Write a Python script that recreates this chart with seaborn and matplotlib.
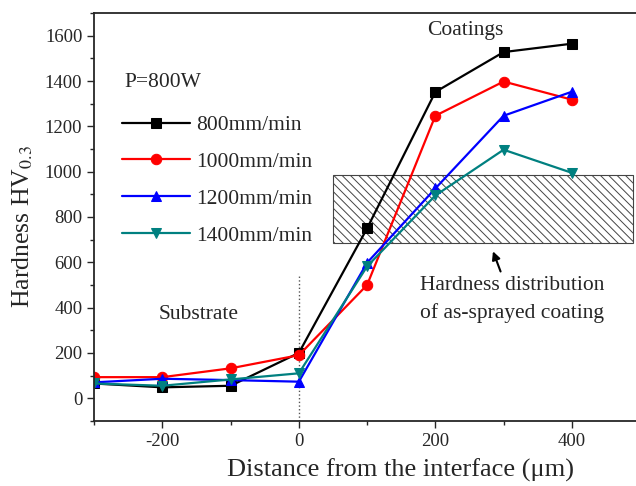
import pandas as pd
import seaborn as sns
import matplotlib.pyplot as plt
from matplotlib.patches import Rectangle
from matplotlib.ticker import MultipleLocator

# distance from interface (um)
distance = [-300, -200, -100, 0, 100, 200, 300, 400]

# hardness values per scanning speed
hv_800 = [65, 48, 55, 200, 750, 1352, 1528, 1565]
hv_1000 = [93, 93, 132, 190, 500, 1247, 1398, 1318]
hv_1200 = [70, 86, 80, 73, 598, 926, 1247, 1353]
hv_1400 = [65, 55, 83, 110, 582, 895, 1097, 995]

speeds = ["800mm/min", "1000mm/min", "1200mm/min", "1400mm/min"]
colors = ["black", "#ff0000", "#0000ff", "#008080"]
marks = ["s", "o", "^", "v"]

rows = []
for sp, vals in zip(speeds, [hv_800, hv_1000, hv_1200, hv_1400]):
    for d, v in zip(distance, vals):
        rows.append({"Distance": d, "Hardness": v, "Speed": sp})
df = pd.DataFrame(rows)

sns.set_style("ticks")
plt.rcParams['font.family'] = ['Liberation Serif', 'DejaVu Serif']
plt.rcParams['mathtext.fontset'] = 'stix'
plt.rcParams['axes.unicode_minus'] = False
plt.rcParams['hatch.color'] = '#555555'
plt.rcParams['hatch.linewidth'] = 0.7

fig = plt.figure(figsize=(6.36, 4.86), dpi=100)
ax = fig.add_axes([0.148, 0.134, 0.852, 0.839])

# as-sprayed coating band
ax.add_patch(Rectangle((50, 685), 440, 300, fill=False, edgecolor="#444444",
                       hatch="\\\\\\\\", linewidth=0.8))
ax.plot([0, 0], [-100, 540], ls=":", color="#555555", lw=1)

sns.lineplot(data=df, x="Distance", y="Hardness", hue="Speed", style="Speed",
             palette=dict(zip(speeds, colors)), markers=dict(zip(speeds, marks)),
             dashes=False, markersize=7.5, linewidth=1.6, ax=ax)
for ln in ax.lines[1:]:
    ln.set_markeredgecolor(ln.get_color())

leg = ax.legend(frameon=False, loc="upper left", bbox_to_anchor=(0.052, 0.75),
                borderaxespad=0, borderpad=0, handlelength=3.15, fontsize=15.5,
                labelspacing=0.78, handletextpad=0.3)
for h in leg.legend_handles:
    h.set_markeredgecolor(h.get_color())

ax.set_xlim(-300, 494)
ax.set_ylim(-100, 1700)
ax.xaxis.set_major_locator(MultipleLocator(200))
ax.xaxis.set_minor_locator(MultipleLocator(100))
ax.yaxis.set_major_locator(MultipleLocator(200))
ax.yaxis.set_minor_locator(MultipleLocator(100))
ax.tick_params(which="both", direction="out", labelsize=13.5, width=1)
ax.tick_params(which="major", length=5)
ax.tick_params(which="minor", length=3)
for s in ["left", "bottom", "top"]:
    ax.spines[s].set_linewidth(1.3)
ax.spines["right"].set_visible(False)

ax.set_xlabel("Distance from the interface (\u03bcm)", fontsize=19)
ax.set_ylabel("Hardness HV$_{0.3}$", fontsize=18.5)
ax.xaxis.set_label_coords(0.5646, -0.092)
ax.yaxis.set_label_coords(-0.109, 0.478)

ax.text(-255, 1392, "P=800W", fontsize=15.5, va="center", ha="left")
ax.text(244, 1622, "Coatings", fontsize=15.5, ha="center", va="center")
ax.text(-147, 371, "Substrate", fontsize=15.5, ha="center", va="center")
ax.text(177, 436, "Hardness distribution\nof as-sprayed coating", fontsize=15.5,
        ha="left", va="center", linespacing=1.5)
ax.annotate("", xy=(283, 660), xytext=(297, 548),
            arrowprops=dict(arrowstyle="-|>", color="black", lw=1.5,
                            mutation_scale=12))

fig.savefig("out.png", dpi=100)
